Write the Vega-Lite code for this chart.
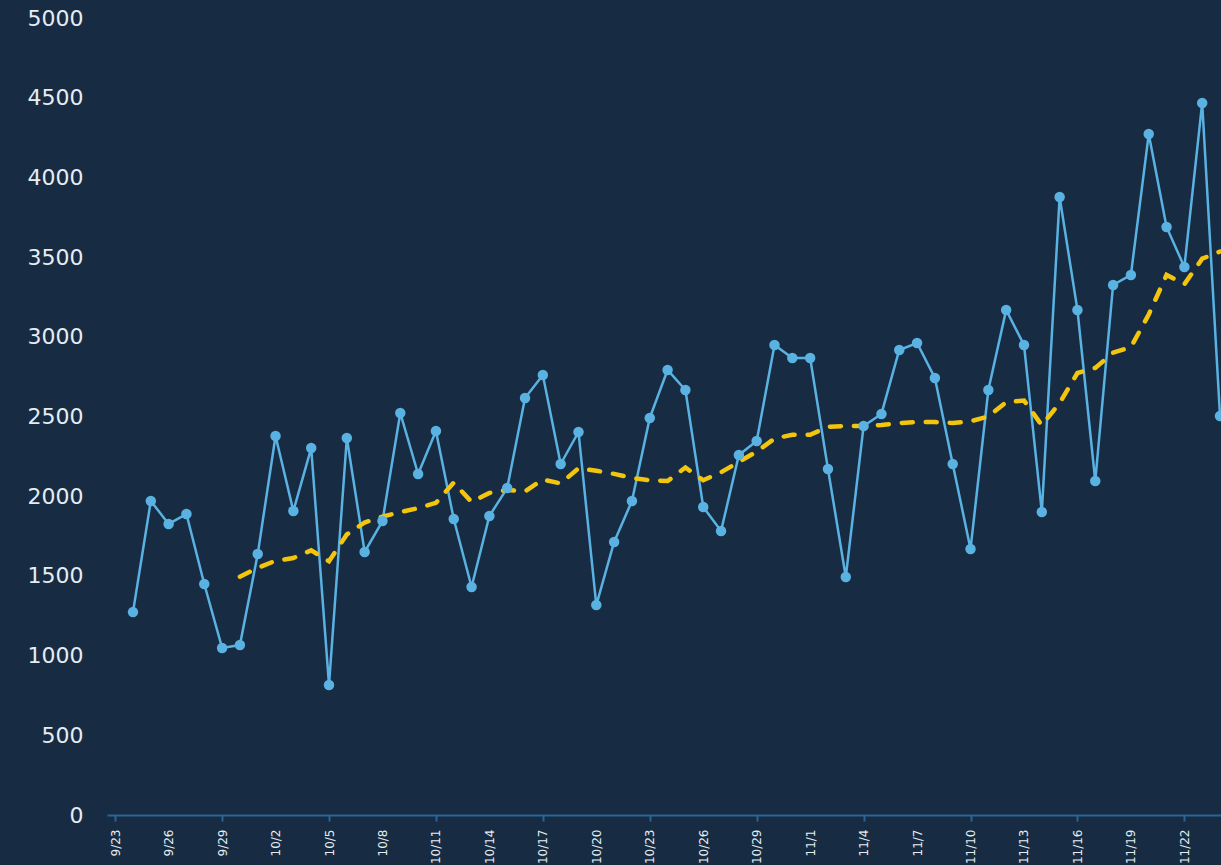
{
  "$schema": "https://vega.github.io/schema/vega-lite/v6.json",
  "width": 1114,
  "height": 797,
  "autosize": {"type": "none"},
  "padding": {"left": 107, "top": 18, "right": 0, "bottom": 50},
  "background": "#172c42",
  "config": {
    "view": {"stroke": null},
    "axis": {"labelFont": "DejaVu Sans", "labelColor": "#e6ecf2", "grid": false}
  },
  "data": {
    "values": [
      {"date": "2023-09-24", "value": 1273, "ma": null},
      {"date": "2023-09-25", "value": 1970, "ma": null},
      {"date": "2023-09-26", "value": 1826, "ma": null},
      {"date": "2023-09-27", "value": 1888, "ma": null},
      {"date": "2023-09-28", "value": 1449, "ma": null},
      {"date": "2023-09-29", "value": 1048, "ma": null},
      {"date": "2023-09-30", "value": 1066, "ma": 1495},
      {"date": "2023-10-01", "value": 1637, "ma": 1550},
      {"date": "2023-10-02", "value": 2378, "ma": 1595},
      {"date": "2023-10-03", "value": 1907, "ma": 1612},
      {"date": "2023-10-04", "value": 2302, "ma": 1660},
      {"date": "2023-10-05", "value": 816, "ma": 1592},
      {"date": "2023-10-06", "value": 2365, "ma": 1760},
      {"date": "2023-10-07", "value": 1650, "ma": 1835},
      {"date": "2023-10-08", "value": 1844, "ma": 1872},
      {"date": "2023-10-09", "value": 2522, "ma": 1900},
      {"date": "2023-10-10", "value": 2139, "ma": 1925},
      {"date": "2023-10-11", "value": 2409, "ma": 1958},
      {"date": "2023-10-12", "value": 1857, "ma": 2085},
      {"date": "2023-10-13", "value": 1430, "ma": 1964},
      {"date": "2023-10-14", "value": 1876, "ma": 2020},
      {"date": "2023-10-15", "value": 2051, "ma": 2040},
      {"date": "2023-10-16", "value": 2616, "ma": 2030},
      {"date": "2023-10-17", "value": 2760, "ma": 2105},
      {"date": "2023-10-18", "value": 2202, "ma": 2080},
      {"date": "2023-10-19", "value": 2403, "ma": 2175},
      {"date": "2023-10-20", "value": 1317, "ma": 2160},
      {"date": "2023-10-21", "value": 1713, "ma": 2140},
      {"date": "2023-10-22", "value": 1970, "ma": 2115},
      {"date": "2023-10-23", "value": 2491, "ma": 2100},
      {"date": "2023-10-24", "value": 2792, "ma": 2095},
      {"date": "2023-10-25", "value": 2666, "ma": 2180},
      {"date": "2023-10-26", "value": 1932, "ma": 2100},
      {"date": "2023-10-27", "value": 1782, "ma": 2150},
      {"date": "2023-10-28", "value": 2258, "ma": 2215},
      {"date": "2023-10-29", "value": 2346, "ma": 2280},
      {"date": "2023-10-30", "value": 2949, "ma": 2362},
      {"date": "2023-10-31", "value": 2867, "ma": 2385},
      {"date": "2023-11-01", "value": 2867, "ma": 2385},
      {"date": "2023-11-02", "value": 2171, "ma": 2435},
      {"date": "2023-11-03", "value": 1493, "ma": 2440},
      {"date": "2023-11-04", "value": 2440, "ma": 2440},
      {"date": "2023-11-05", "value": 2516, "ma": 2447},
      {"date": "2023-11-06", "value": 2917, "ma": 2459},
      {"date": "2023-11-07", "value": 2961, "ma": 2465},
      {"date": "2023-11-08", "value": 2742, "ma": 2465},
      {"date": "2023-11-09", "value": 2202, "ma": 2459},
      {"date": "2023-11-10", "value": 1669, "ma": 2470},
      {"date": "2023-11-11", "value": 2666, "ma": 2500},
      {"date": "2023-11-12", "value": 3168, "ma": 2590},
      {"date": "2023-11-13", "value": 2949, "ma": 2600},
      {"date": "2023-11-14", "value": 1901, "ma": 2445},
      {"date": "2023-11-15", "value": 3877, "ma": 2585},
      {"date": "2023-11-16", "value": 3168, "ma": 2773},
      {"date": "2023-11-17", "value": 2095, "ma": 2805},
      {"date": "2023-11-18", "value": 3325, "ma": 2900},
      {"date": "2023-11-19", "value": 3388, "ma": 2935},
      {"date": "2023-11-20", "value": 4272, "ma": 3140},
      {"date": "2023-11-21", "value": 3689, "ma": 3388},
      {"date": "2023-11-22", "value": 3438, "ma": 3330},
      {"date": "2023-11-23", "value": 4467, "ma": 3490},
      {"date": "2023-11-24", "value": 2503, "ma": 3535}
    ]
  },
  "encoding": {
    "x": {
      "field": "date",
      "type": "temporal",
      "title": null,
      "scale": {
        "type": "utc",
        "domain": [
          {"year": 2023, "month": 9, "date": 22, "hours": 13, "utc": true},
          {"year": 2023, "month": 11, "date": 24, "hours": 1, "minutes": 20, "utc": true}
        ]
      },
      "axis": {
        "values": [
          {"year": 2023, "month": 9, "date": 23, "utc": true},
          {"year": 2023, "month": 9, "date": 26, "utc": true},
          {"year": 2023, "month": 9, "date": 29, "utc": true},
          {"year": 2023, "month": 10, "date": 2, "utc": true},
          {"year": 2023, "month": 10, "date": 5, "utc": true},
          {"year": 2023, "month": 10, "date": 8, "utc": true},
          {"year": 2023, "month": 10, "date": 11, "utc": true},
          {"year": 2023, "month": 10, "date": 14, "utc": true},
          {"year": 2023, "month": 10, "date": 17, "utc": true},
          {"year": 2023, "month": 10, "date": 20, "utc": true},
          {"year": 2023, "month": 10, "date": 23, "utc": true},
          {"year": 2023, "month": 10, "date": 26, "utc": true},
          {"year": 2023, "month": 10, "date": 29, "utc": true},
          {"year": 2023, "month": 11, "date": 1, "utc": true},
          {"year": 2023, "month": 11, "date": 4, "utc": true},
          {"year": 2023, "month": 11, "date": 7, "utc": true},
          {"year": 2023, "month": 11, "date": 10, "utc": true},
          {"year": 2023, "month": 11, "date": 13, "utc": true},
          {"year": 2023, "month": 11, "date": 16, "utc": true},
          {"year": 2023, "month": 11, "date": 19, "utc": true},
          {"year": 2023, "month": 11, "date": 22, "utc": true}
        ],
        "labelExpr": "utcFormat(datum.value, '%-m/%-d')",
        "labelAngle": -90,
        "labelFontSize": 12,
        "labelPadding": 8,
        "labelFlush": false,
        "labelOverlap": false,
        "domainColor": "#2b6496",
        "domainWidth": 2,
        "tickColor": "#2b6496",
        "tickWidth": 2,
        "tickSize": 6,
        "tickOpacity": {"expr": "((+datum.value) - 1695427200000) % 518400000 == 0 ? 1 : 0"}
      }
    },
    "y": {
      "type": "quantitative",
      "scale": {"domain": [0, 5000]},
      "axis": {
        "title": null,
        "values": [0, 500, 1000, 1500, 2000, 2500, 3000, 3500, 4000, 4500, 5000],
        "format": "d",
        "domain": false,
        "ticks": false,
        "labelFontSize": 22,
        "labelPadding": 24
      }
    }
  },
  "layer": [
    {
      "mark": {"type": "line", "color": "#5ab2e3", "strokeWidth": 2.5},
      "encoding": {"y": {"field": "value", "type": "quantitative"}}
    },
    {
      "mark": {"type": "line", "color": "#f3c50d", "strokeWidth": 4.5, "strokeDash": [11, 13], "strokeCap": "round"},
      "encoding": {"y": {"field": "ma", "type": "quantitative"}}
    },
    {
      "mark": {"type": "point", "filled": true, "color": "#5ab2e3", "opacity": 1, "size": 110},
      "encoding": {"y": {"field": "value", "type": "quantitative"}}
    }
  ]
}
